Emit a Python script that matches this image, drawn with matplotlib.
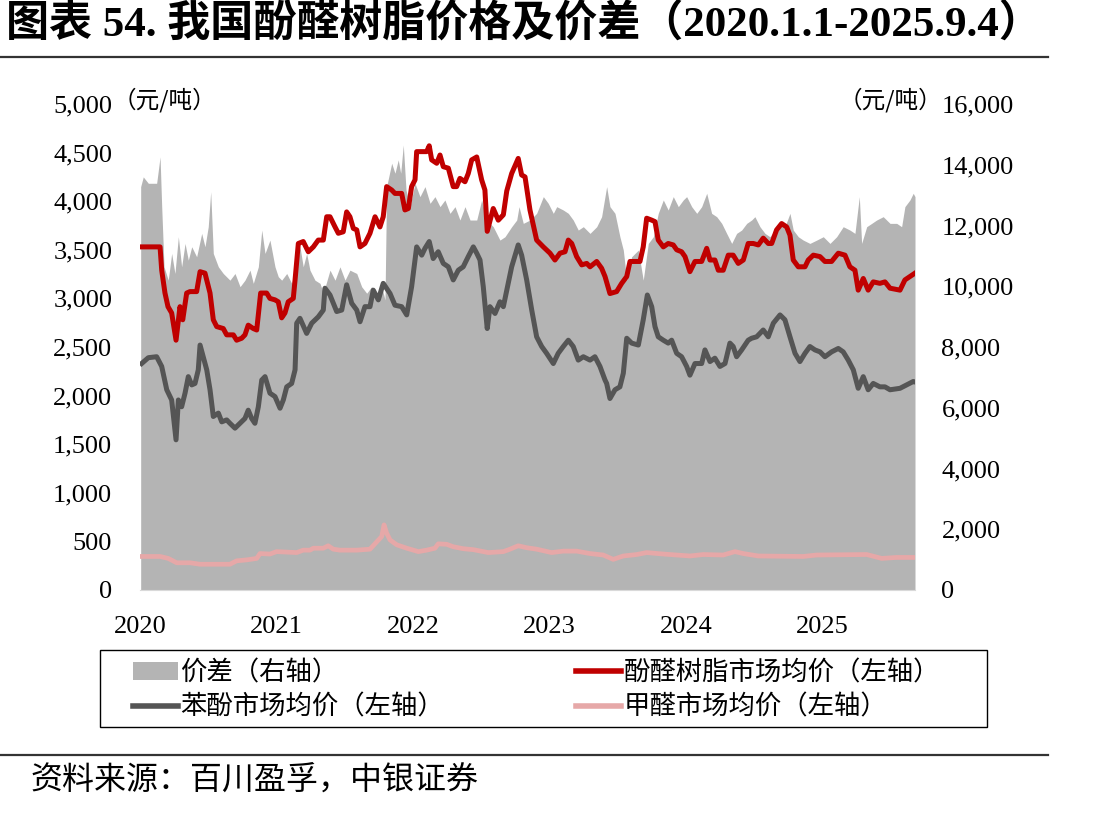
import numpy as np
import matplotlib.pyplot as plt
from matplotlib.patches import Patch, Rectangle
from matplotlib.lines import Line2D

plt.rcParams['font.family'] = ['Liberation Serif', 'Noto Sans CJK SC']

# -----------------------------------
# Data (x = years after 2020-01-01)
# -----------------------------------

# 价差 (right axis)
spread_t = [0.005, 0.024, 0.061, 0.122, 0.147, 0.159, 0.176, 0.207, 0.232, 0.256,
            0.281, 0.305, 0.330, 0.354, 0.379, 0.415, 0.452, 0.476, 0.500, 0.518,
            0.537, 0.574, 0.610, 0.659, 0.696, 0.733, 0.769, 0.806, 0.830, 0.867,
            0.892, 0.916, 0.952, 0.989, 1.013, 1.038, 1.075, 1.111, 1.148, 1.172,
            1.196, 1.221, 1.245, 1.282, 1.319, 1.343, 1.392, 1.429, 1.465, 1.502,
            1.538, 1.588, 1.624, 1.661, 1.697, 1.734, 1.771, 1.795, 1.807, 1.844,
            1.868, 1.892, 1.910, 1.929, 1.949, 1.978, 2.015, 2.051, 2.088, 2.125,
            2.161, 2.198, 2.234, 2.271, 2.308, 2.344, 2.381, 2.418, 2.467, 2.503,
            2.540, 2.588, 2.637, 2.674, 2.723, 2.760, 2.777, 2.808, 2.857, 2.906,
            2.955, 2.991, 3.028, 3.053, 3.101, 3.138, 3.174, 3.211, 3.248, 3.297,
            3.346, 3.382, 3.419, 3.443, 3.480, 3.516, 3.541, 3.566, 3.602, 3.651,
            3.687, 3.724, 3.761, 3.797, 3.834, 3.870, 3.907, 3.944, 3.980, 4.005,
            4.042, 4.079, 4.115, 4.152, 4.188, 4.225, 4.262, 4.298, 4.335, 4.371,
            4.408, 4.445, 4.481, 4.505, 4.542, 4.579, 4.615, 4.652, 4.689, 4.725,
            4.762, 4.786, 4.823, 4.859, 4.908, 4.958, 5.006, 5.055, 5.104, 5.152,
            5.201, 5.238, 5.270, 5.287, 5.324, 5.361, 5.397, 5.445, 5.495, 5.544,
            5.580, 5.604, 5.641, 5.665, 5.678]
spread_v = [13280, 13600, 13390, 13390, 14260, 12620, 10640, 10200, 11080, 10420,
            11630, 10640, 11410, 10860, 11300, 10970, 11740, 11300, 11960, 13110,
            11080, 10640, 10420, 10200, 10420, 9985, 10200, 10530, 10095, 10640,
            11850, 11080, 11520, 10640, 10315, 10200, 10420, 10095, 10640, 11300,
            10640, 11080, 10530, 10200, 10095, 9770, 10530, 10200, 10640, 10200,
            10530, 10420, 9985, 9770, 9985, 9770, 9985, 9550, 13280, 14050,
            13720, 14160, 13720, 14650, 13170, 12620, 13390, 12950, 13280, 12730,
            12950, 12620, 12840, 12400, 12620, 12180, 12620, 12180, 12180, 12840,
            12180, 11960, 11520, 11630, 11960, 12180, 12620, 12070, 12180, 12400,
            12950, 12730, 12400, 12620, 12510, 12400, 12180, 11850, 11960, 11740,
            11960, 12290, 13280, 12620, 12400, 11630, 11190, 10200, 10970, 11190,
            10200, 11410, 11630, 12400, 12840, 12510, 12950, 12620, 12840, 12950,
            12620, 12400, 12620, 13060, 12400, 12290, 12070, 11740, 11410, 11740,
            11850, 12070, 12180, 12290, 11960, 11740, 11630, 11850, 12070, 11960,
            12400, 11850, 11630, 11520, 11410, 11520, 11630, 11410, 11630, 11960,
            11850, 11740, 12950, 11410, 11960, 12070, 12180, 12290, 12070, 12070,
            11960, 12620, 12840, 13060, 12950]

# 酚醛树脂市场均价 (left axis)
resin_t = [0.012, 0.147, 0.159, 0.183, 0.205, 0.232, 0.264, 0.293, 0.313, 0.342,
           0.366, 0.415, 0.440, 0.476, 0.513, 0.537, 0.562, 0.610, 0.635, 0.684,
           0.708, 0.745, 0.769, 0.793, 0.830, 0.855, 0.884, 0.928, 0.952, 0.989,
           1.013, 1.038, 1.062, 1.086, 1.123, 1.136, 1.160, 1.196, 1.233, 1.270,
           1.306, 1.343, 1.368, 1.392, 1.429, 1.453, 1.489, 1.514, 1.538, 1.563,
           1.588, 1.612, 1.648, 1.685, 1.722, 1.758, 1.782, 1.807, 1.844, 1.868,
           1.917, 1.941, 1.966, 1.990, 2.015, 2.027, 2.100, 2.119, 2.137, 2.174,
           2.198, 2.222, 2.259, 2.295, 2.320, 2.344, 2.381, 2.405, 2.430, 2.467,
           2.503, 2.527, 2.544, 2.588, 2.625, 2.662, 2.687, 2.723, 2.771, 2.796,
           2.821, 2.857, 2.906, 2.955, 3.004, 3.040, 3.077, 3.114, 3.138, 3.163,
           3.199, 3.236, 3.273, 3.297, 3.346, 3.382, 3.407, 3.443, 3.492, 3.529,
           3.566, 3.590, 3.663, 3.687, 3.712, 3.749, 3.773, 3.797, 3.834, 3.870,
           3.907, 3.932, 3.968, 3.993, 4.029, 4.066, 4.115, 4.152, 4.176, 4.212,
           4.237, 4.273, 4.310, 4.346, 4.383, 4.420, 4.456, 4.493, 4.530, 4.566,
           4.603, 4.628, 4.664, 4.701, 4.738, 4.762, 4.786, 4.823, 4.872, 4.896,
           4.933, 4.982, 5.018, 5.067, 5.116, 5.165, 5.201, 5.238, 5.262, 5.299,
           5.335, 5.372, 5.421, 5.458, 5.495, 5.568, 5.604, 5.641, 5.678]
resin_v = [3530, 3530, 3290, 3055, 2915, 2850, 2570, 2915, 2780, 3055,
           3070, 3070, 3275, 3260, 3055, 2780, 2710, 2690, 2625, 2625,
           2570, 2590, 2625, 2725, 2690, 2675, 3055, 3055, 3000, 2985,
           2965, 2800, 2850, 2965, 3000, 3190, 3565, 3585, 3480, 3530,
           3600, 3600, 3840, 3840, 3735, 3670, 3685, 3890, 3840, 3720,
           3705, 3530, 3565, 3670, 3840, 3735, 3840, 4150, 4115, 4080,
           4080, 3910, 3925, 4150, 4220, 4510, 4510, 4570, 4425, 4390,
           4475, 4355, 4340, 4150, 4150, 4235, 4200, 4285, 4425, 4455,
           4220, 4115, 3690, 3925, 3805, 3860, 4105, 4285, 4440, 4270,
           4250, 3910, 3600, 3530, 3465, 3395, 3465, 3480, 3600, 3565,
           3430, 3345, 3360, 3325, 3380, 3310, 3225, 3050, 3070, 3155,
           3225, 3380, 3380, 3530, 3825, 3805, 3790, 3600, 3530, 3565,
           3550, 3500, 3480, 3430, 3275, 3380, 3380, 3515, 3395, 3395,
           3290, 3290, 3445, 3445, 3360, 3395, 3565, 3565, 3550, 3620,
           3565, 3565, 3705, 3770, 3735, 3650, 3395, 3325, 3325, 3395,
           3445, 3430, 3380, 3380, 3465, 3445, 3325, 3290, 3085, 3205,
           3085, 3170, 3155, 3170, 3105, 3085, 3190, 3225, 3260]

# 苯酚市场均价 (left axis)
phenol_t = [0.012, 0.061, 0.122, 0.159, 0.196, 0.232, 0.264, 0.281, 0.305, 0.330,
            0.354, 0.379, 0.403, 0.427, 0.440, 0.476, 0.489, 0.513, 0.537, 0.574,
            0.599, 0.635, 0.659, 0.696, 0.733, 0.769, 0.793, 0.818, 0.842, 0.867,
            0.892, 0.916, 0.952, 0.989, 1.026, 1.050, 1.075, 1.111, 1.136, 1.148,
            1.172, 1.221, 1.258, 1.306, 1.343, 1.355, 1.392, 1.441, 1.478, 1.514,
            1.551, 1.588, 1.612, 1.648, 1.685, 1.709, 1.746, 1.782, 1.832, 1.868,
            1.917, 1.954, 1.990, 2.027, 2.064, 2.088, 2.119, 2.148, 2.185, 2.222,
            2.259, 2.295, 2.332, 2.368, 2.405, 2.442, 2.467, 2.491, 2.515, 2.544,
            2.564, 2.601, 2.637, 2.662, 2.687, 2.723, 2.771, 2.796, 2.833, 2.870,
            2.906, 2.943, 2.979, 3.028, 3.064, 3.101, 3.138, 3.174, 3.211, 3.248,
            3.297, 3.333, 3.370, 3.407, 3.419, 3.443, 3.480, 3.516, 3.541, 3.566,
            3.602, 3.651, 3.687, 3.717, 3.749, 3.773, 3.797, 3.834, 3.870, 3.895,
            3.932, 3.968, 4.005, 4.029, 4.066, 4.115, 4.139, 4.176, 4.212, 4.249,
            4.286, 4.322, 4.346, 4.371, 4.408, 4.456, 4.481, 4.518, 4.566, 4.603,
            4.640, 4.689, 4.725, 4.762, 4.799, 4.835, 4.872, 4.908, 4.945, 4.982,
            5.018, 5.067, 5.116, 5.152, 5.189, 5.226, 5.262, 5.299, 5.335, 5.372,
            5.421, 5.458, 5.495, 5.568, 5.617, 5.665, 5.678]
phenol_v = [2330, 2390, 2400, 2300, 2060, 1955, 1545, 1955, 1885, 2025,
            2195, 2110, 2125, 2265, 2520, 2330, 2265, 2060, 1785, 1820,
            1730, 1750, 1715, 1665, 1715, 1765, 1850, 1765, 1715, 1885,
            2160, 2195, 2025, 1990, 1870, 1955, 2090, 2125, 2265, 2745,
            2795, 2640, 2745, 2810, 2880, 3105, 3035, 2865, 2880, 3140,
            2950, 2880, 2760, 2915, 2915, 3085, 2985, 3155, 3050, 2930,
            2915, 2830, 3120, 3530, 3445, 3515, 3585, 3410, 3480, 3360,
            3325, 3190, 3290, 3325, 3430, 3530, 3465, 3395, 3120, 2690,
            2915, 2845, 2965, 2915, 3085, 3325, 3550, 3445, 3190, 2880,
            2605, 2505, 2435, 2330, 2435, 2505, 2570, 2505, 2365, 2400,
            2365, 2400, 2300, 2160, 2125, 1970, 2060, 2090, 2230, 2590,
            2540, 2520, 2780, 3035, 2915, 2710, 2605, 2570, 2540, 2570,
            2435, 2400, 2300, 2210, 2330, 2330, 2470, 2350, 2385, 2300,
            2330, 2540, 2505, 2400, 2470, 2570, 2590, 2605, 2675, 2605,
            2745, 2830, 2780, 2605, 2435, 2350, 2435, 2505, 2470, 2450,
            2400, 2450, 2485, 2450, 2365, 2265, 2075, 2195, 2060, 2125,
            2090, 2090, 2060, 2075, 2110, 2145, 2140]

# 甲醛市场均价 (left axis)
formal_t = [0.012, 0.147, 0.207, 0.269, 0.366, 0.440, 0.659, 0.708, 0.782, 0.855,
            0.879, 0.952, 1.001, 1.148, 1.196, 1.245, 1.270, 1.343, 1.379, 1.416,
            1.465, 1.588, 1.685, 1.734, 1.771, 1.788, 1.807, 1.832, 1.881, 1.954,
            2.039, 2.100, 2.161, 2.185, 2.247, 2.295, 2.368, 2.442, 2.552, 2.662,
            2.711, 2.771, 2.833, 2.906, 3.016, 3.101, 3.199, 3.297, 3.394, 3.467,
            3.541, 3.639, 3.712, 3.834, 4.029, 4.127, 4.273, 4.359, 4.420, 4.530,
            4.859, 4.958, 5.324, 5.434, 5.544, 5.678]
formal_v = [345, 345, 325, 280, 280, 265, 265, 300, 310, 325,
            375, 370, 395, 385, 410, 410, 430, 430, 455, 420,
            410, 410, 420, 495, 550, 670, 585, 515, 465, 430,
            395, 410, 430, 475, 470, 445, 425, 415, 385, 395,
            420, 455, 435, 420, 385, 400, 400, 375, 360, 315,
            350, 365, 385, 370, 350, 365, 360, 395, 375, 350,
            345, 360, 365, 325, 335, 335]

year_ticks = [2020, 2021, 2022, 2023, 2024, 2025]
left_ticks = [0, 500, 1000, 1500, 2000, 2500, 3000, 3500, 4000, 4500, 5000]
right_ticks = [0, 2000, 4000, 6000, 8000, 10000, 12000, 14000, 16000]

# -----------------------------------
# Figure
# -----------------------------------

W, H = 1101, 814
fig = plt.figure(figsize=(W / 100, H / 100), dpi=100)

ax = fig.add_axes([140 / W, 1 - 590 / H, 775 / W, 486 / H])
ax2 = ax.twinx()
ax.set_zorder(ax2.get_zorder() + 1)
ax.patch.set_visible(False)

c_spread = "#b4b4b4"
c_resin = "#c00000"
c_phenol = "#555555"
c_formal = "#e6a8a8"

ax2.fill_between(2020 + np.array(spread_t), spread_v, 0,
                 color=c_spread, linewidth=0)

ax.plot(2020 + np.array(formal_t), formal_v, color=c_formal, lw=3.4,
        solid_joinstyle="round")
ax.plot(2020 + np.array(phenol_t), phenol_v, color=c_phenol, lw=3.6,
        solid_joinstyle="round")
ax.plot(2020 + np.array(resin_t), resin_v, color=c_resin, lw=3.6,
        solid_joinstyle="round")

ax.set_xlim(2020, 2020 + 5.678)
ax.set_ylim(0, 5000)
ax2.set_ylim(0, 16000)

ax.set_xticks(year_ticks)
ax.set_xticklabels([str(y) for y in year_ticks])
ax.set_yticks(left_ticks)
ax.set_yticklabels([f"{v:,}" for v in left_ticks])
ax2.set_yticks(right_ticks)
ax2.set_yticklabels([f"{v:,}" for v in right_ticks])

for a in (ax, ax2):
    for s in a.spines.values():
        s.set_visible(False)
    a.tick_params(length=0, labelsize=19)

ax.spines["bottom"].set_visible(True)
ax.spines["bottom"].set_color("#d9d9d9")
ax.tick_params(axis="y", pad=20)
ax.tick_params(axis="x", pad=19)
ax2.tick_params(axis="y", pad=19)

# -----------------------------------
# Texts and rules
# -----------------------------------

fig.text(6 / W, 1 - 24 / H,
         "图表 54. 我国酚醛树脂价格及价差（2020.1.1-2025.9.4）",
         fontsize=31, fontweight="bold", va="center", ha="left")

fig.add_artist(Line2D([0, 1048 / W], [1 - 57 / H] * 2,
                      color="#333333", lw=1.6))
fig.add_artist(Line2D([0, 1048 / W], [1 - 755 / H] * 2,
                      color="#333333", lw=1.6))

fig.text(113 / W, 1 - 100 / H, "（元/吨）", fontsize=17,
         family="Noto Sans CJK SC", va="center", ha="left")
fig.text(942 / W, 1 - 100 / H, "（元/吨）", fontsize=17,
         family="Noto Sans CJK SC", va="center", ha="right")

fig.text(30 / W, 1 - 780 / H, "资料来源：百川盈孚，中银证券",
         fontsize=23, family="Noto Sans CJK SC",
         va="center", ha="left")

# -----------------------------------
# Legend
# -----------------------------------

handles = [
    Patch(facecolor=c_spread, edgecolor="none"),
    Line2D([], [], color=c_phenol, lw=4),
    Line2D([], [], color=c_resin, lw=4),
    Line2D([], [], color=c_formal, lw=4),
]
labels = ["价差（右轴）", "苯酚市场均价（左轴）",
          "酚醛树脂市场均价（左轴）", "甲醛市场均价（左轴）"]

fig.legend(handles, labels, ncol=2, loc="upper left",
           bbox_to_anchor=(133 / W, 1 - 659 / H),
           frameon=False, handlelength=1.7, handletextpad=0.1,
           borderaxespad=0, borderpad=0, labelspacing=0.3,
           columnspacing=5.0,
           prop={"family": "Noto Sans CJK SC", "size": 19})

fig.add_artist(Rectangle((100 / W, 1 - 727 / H), 887 / W, 77 / H,
                         transform=fig.transFigure, fill=False,
                         edgecolor="black", lw=1.0))

fig.savefig("out.png", dpi=100)
